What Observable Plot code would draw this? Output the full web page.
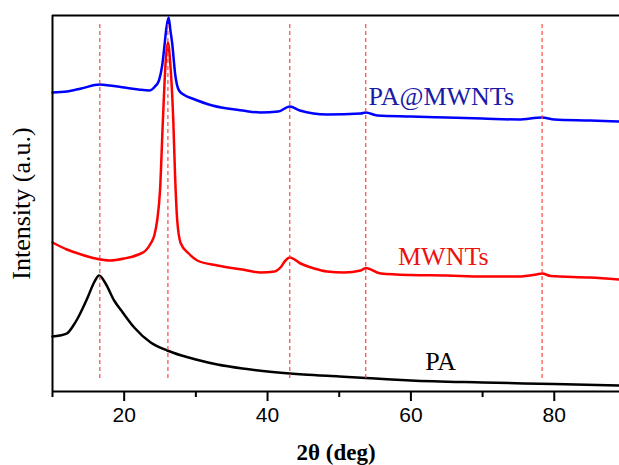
<!DOCTYPE html>
<html>
<head>
<meta charset="utf-8">
<script src="https://cdn.jsdelivr.net/npm/d3@7"></script>
<script src="https://cdn.jsdelivr.net/npm/@observablehq/plot@0.6"></script>
<style>
  html, body { margin: 0; padding: 0; background: white; }
</style>
</head>
<body>
<div id="chart"></div>
<script>
// 2θ (deg) and intensity (a.u.)
const paX = [10, 11, 12, 13, 13.5, 14.2, 14.9, 15.8, 16.5, 17.4, 18.6, 19.8, 21.4, 23.7, 26, 28, 30, 33, 36.5, 40, 45, 50, 55, 60, 70, 80, 89];
const paY = [55, 56, 58, 67, 73, 83, 94, 109, 116, 108, 91, 79, 64, 49, 41, 36, 32, 27, 23, 20, 17, 15, 13, 11, 9, 7.5, 6];

const mwntX = [10, 12, 14, 16, 18, 20, 22, 23, 23.7, 24.2, 24.6, 25.0, 25.4, 25.8, 26.1, 26.4, 26.85, 27.1, 27.4, 27.9, 29, 30.2, 33, 36.5, 39, 41, 41.8, 42.5, 43.1, 44.6, 46.5, 48.3, 50.7, 53, 53.7, 55.8, 60, 65, 70, 75, 77.5, 78.3, 79.5, 85, 89];
const mwntY = [149, 142, 137, 133, 131, 133, 137, 141, 148, 156, 171, 201, 271, 331, 349, 331, 271, 216, 171, 148, 138, 131, 126, 122, 119, 120, 124, 131, 134, 128, 123, 120, 119, 121, 123.5, 118, 116.5, 116, 115, 115, 117, 118, 115.5, 114, 112];

const pamX = [10, 12, 14, 16.6, 18, 20, 22, 23.5, 24.3, 24.85, 25.3, 25.55, 25.9, 26.2, 26.45, 26.7, 27.1, 27.65, 28.5, 29.5, 32.3, 36.5, 39, 41.5, 43.1, 44.5, 48.3, 53, 53.7, 55.3, 60, 65, 70, 75, 78.3, 80, 85, 89];
const pamY = [299, 300, 303, 307, 306, 304, 302, 301, 305, 311, 326, 341, 364, 374, 361, 348, 318, 301, 296, 293, 286, 281, 279, 280, 285, 281, 277, 278, 279, 276, 275, 274, 273, 272, 274, 272, 271, 270];

const peakPositions = [16.6, 26.1, 43.1, 53.7, 78.3];
const peakRuleRange = [13, 369];

const seriesNames = ["PA", "MWNTs", "PA@MWNTs"];
const seriesColors = ["#000000", "#ff0000", "#0000ff"];
const labelColors = ["#000000", "#ee1111", "#1a1aa8"];
const labelX = [62.0, 58.2, 54.1];
const labelY = [22, 127, 287];

const majorTicks = [20, 40, 60, 80];
const minorTicks = [10, 30, 50, 70];
const xDomain = [10, 89.1];
const yDomain = [0, 376];

const toRows = (xs, ys, name) => xs.map((x, i) => ({x, y: ys[i], series: name}));
const rows = [
  ...toRows(paX, paY, seriesNames[0]),
  ...toRows(mwntX, mwntY, seriesNames[1]),
  ...toRows(pamX, pamY, seriesNames[2])
];
const labels = seriesNames.map((s, i) => ({name: s, x: labelX[i], y: labelY[i], color: labelColors[i]}));

const serif = "'Liberation Serif', 'Times New Roman', serif";
const sans = "'Liberation Sans', Arial, sans-serif";

const chart = Plot.plot({
  width: 619,
  height: 465,
  marginLeft: 52,
  marginRight: 0,
  marginTop: 15,
  marginBottom: 74,
  style: {background: "white", overflow: "visible"},
  x: {domain: xDomain, axis: null},
  y: {domain: yDomain, axis: null},
  color: {domain: seriesNames, range: seriesColors},
  marks: [
    Plot.line(rows, {x: "x", y: "y", z: "series", stroke: "series", strokeWidth: 2.5, curve: "monotone-x"}),
    Plot.ruleX(peakPositions, {y1: peakRuleRange[0], y2: peakRuleRange[1], stroke: "#ff4444", strokeWidth: 1.2, strokeDasharray: "4,3"}),
    Plot.text(labels, {x: "x", y: "y", text: "name", fill: "color", textAnchor: "start", lineAnchor: "bottom", fontSize: 26, fontFamily: serif}),
    Plot.ruleY([yDomain[1]], {stroke: "black", strokeWidth: 2}),
    Plot.ruleY([yDomain[0]], {stroke: "black", strokeWidth: 2}),
    Plot.ruleX([xDomain[0]], {stroke: "black", strokeWidth: 2}),
    Plot.axisX({ticks: majorTicks, tickSize: 10, tickPadding: 6, strokeWidth: 2, fontSize: 21, fontFamily: sans, fill: "black", tickFormat: d => String(d), label: null}),
    Plot.axisX({ticks: minorTicks, tickSize: 6, strokeWidth: 2, tickFormat: () => "", label: null}),
    Plot.text(["2θ (deg)"], {frameAnchor: "bottom", dy: 68, fontSize: 23, fontWeight: "bold", fontFamily: serif, fill: "black"}),
    Plot.text(["Intensity (a.u.)"], {frameAnchor: "left", textAnchor: "middle", dx: -31, rotate: -90, fontSize: 26, fontFamily: serif, fill: "black"})
  ]
});
document.getElementById("chart").appendChild(chart);
</script>
</body>
</html>
